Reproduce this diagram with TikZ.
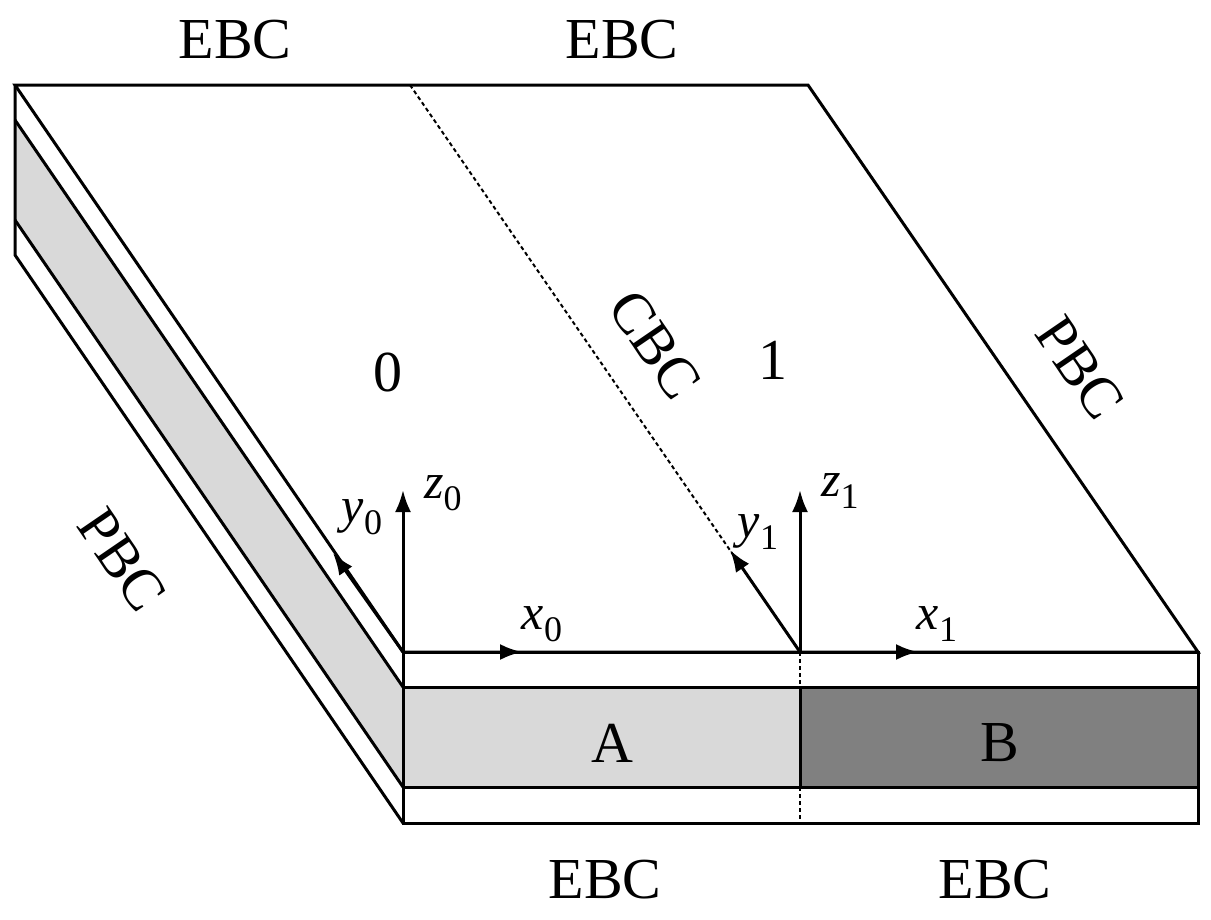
\documentclass[tikz,border=0pt]{standalone}
\usepackage{fontspec}
\setmainfont{Liberation Serif}
\usetikzlibrary{arrows.meta}
\begin{document}
\begin{tikzpicture}[x=1pt,y=-1pt,line width=3pt,line join=miter,
  lbl/.style={font=\fontsize{58}{62}\selectfont,inner sep=0},
  ax/.style={font=\fontsize{50}{54}\selectfont,inner sep=0},
  arr/.style={-{Latex[length=22pt,width=16pt]}},
  dot/.style={line width=2pt,dash pattern=on 4pt off 3pt}]
\useasboundingbox (0,0) rectangle (1211,919);
\newcommand{\axl}[2]{\textit{#1}\raisebox{-0.25em}{\fontsize{36}{40}\selectfont #2}}
% fills
\fill[gray!30] (15,120) -- (403,687) -- (403,787) -- (15,220) -- cycle;
\fill[gray!30] (403,687) rectangle (800,787);
\fill[gray] (800,687) rectangle (1198,787);
% coordinates
\coordinate (TL) at (15,85); \coordinate (TR) at (808,85);
\coordinate (FR) at (1198,652); \coordinate (FL) at (403,652);
\coordinate (DT) at (410,85); \coordinate (O1) at (800,652);
% top
\draw (TL) -- (TR) -- (FR) -- (FL) -- cycle;
\draw[dot] (DT) -- (O1);
% left side
\draw (15,85) -- (15,255) -- (403,823);
\draw (15,120) -- (403,687);
\draw (15,220) -- (403,787);
% front
\draw (403,652) rectangle (1198,823);
\draw (403,687) -- (1198,687);
\draw (403,787) -- (1198,787);
\draw (800,687) -- (800,787);
\draw[dot] (800,652) -- (800,687);
\draw[dot] (800,787) -- (800,823);
% axes
\coordinate (z0) at (403,490); \coordinate (y0) at (333,553); \coordinate (x0) at (522,652);
\coordinate (z1) at (800,490); \coordinate (y1) at (730,550); \coordinate (x1) at (918,652);
\draw[arr] (FL) -- (z0); \draw[arr] (FL) -- (y0); \draw[arr] (FL) -- (x0);
\draw[arr] (O1) -- (z1); \draw[arr] (O1) -- (y1); \draw[arr] (O1) -- (x1);
\node[ax] (lz0) at (443,493) {\axl{z}{0}};
\node[ax] (ly0) at (362,517) {\axl{y}{0}};
\node[ax] (lx0) at (542,624) {\axl{x}{0}};
\node[ax] (lz1) at (840,491) {\axl{z}{1}};
\node[ax] (ly1) at (758,532) {\axl{y}{1}};
\node[ax] (lx1) at (937,624) {\axl{x}{1}};
% labels
\node[lbl] (e1) at (235,40) {EBC};
\node[lbl] (e2) at (622,40) {EBC};
\node[lbl] (e3) at (605,880) {EBC};
\node[lbl] (e4) at (995,880) {EBC};
\node[lbl,rotate=-55.6] (p1) at (122,560) {PBC};
\node[lbl,rotate=-55.6] (p2) at (1080,368) {PBC};
\node[lbl,rotate=-55.6] (c) at (655,345) {CBC};
\node[lbl] (n0) at (388,372) {0};
\node[lbl] (n1) at (773,360) {1};
\node[lbl] (a) at (612,743) {A};
\node[lbl] (b) at (1000,743) {B};
\end{tikzpicture}
\end{document}
